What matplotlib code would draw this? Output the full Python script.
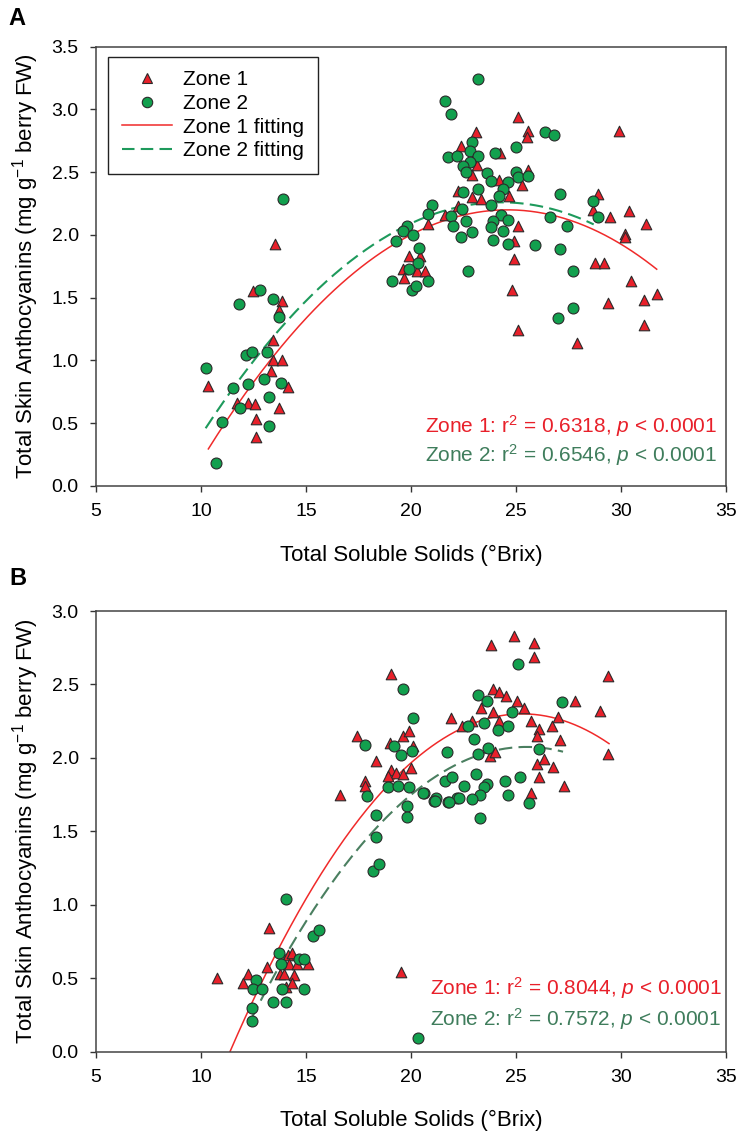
import numpy as np
import matplotlib
matplotlib.use("Agg")
import matplotlib.pyplot as plt
from matplotlib.lines import Line2D

plt.rcParams['font.family'] = ['Liberation Sans', 'DejaVu Sans']
plt.rcParams['mathtext.fontset'] = 'custom'
plt.rcParams['mathtext.rm'] = 'Liberation Sans'
plt.rcParams['mathtext.it'] = 'Liberation Sans:italic'
plt.rcParams['mathtext.bf'] = 'Liberation Sans:bold'

# ---- Panel A ----
a_zone1_tss = [13.52, 12.49, 13.84, 13.71, 13.44, 13.44, 13.84, 13.32, 10.35, 14.13, 11.70, 12.22, 12.57, 13.71, 12.62, 12.62,
               20.79, 19.92, 20.43, 19.60, 20.30, 20.67, 19.68,
               25.11, 23.10, 25.59, 25.51, 29.90, 22.38, 24.24, 23.13, 22.92, 24.21, 25.59, 25.30, 22.89, 23.32, 24.68,
               22.25, 28.92, 28.68, 29.48, 30.40, 31.19, 30.21, 30.21, 25.11, 24.90, 24.90, 28.76, 29.20, 30.48, 24.79,
               31.70, 29.40, 31.10, 25.11, 31.10, 27.89, 22.24, 21.60]
a_zone1_anth = [1.93, 1.55, 1.47, 1.40, 1.16, 1.00, 1.00, 0.92, 0.80, 0.79, 0.66, 0.66, 0.65, 0.62, 0.53, 0.39,
                2.09, 1.83, 1.83, 1.73, 1.71, 1.71, 1.66,
                2.94, 2.82, 2.83, 2.78, 2.83, 2.71, 2.65, 2.56, 2.48, 2.44, 2.52, 2.40, 2.30, 2.29, 2.31,
                2.23, 2.33, 2.20, 2.14, 2.19, 2.09, 2.01, 1.98, 2.07, 1.95, 1.81, 1.78, 1.78, 1.63, 1.56,
                1.53, 1.46, 1.48, 1.24, 1.28, 1.14, 2.35, 2.16]
a_zone2_tss = [13.92, 12.81, 11.83, 13.41, 13.71, 12.13, 12.41, 13.13, 10.22, 12.22, 13.02, 11.51, 13.81, 11.86, 13.22, 11.01, 13.22, 10.71,
               21.02, 20.79, 19.79, 19.63, 19.29, 20.11, 20.40, 20.35, 19.92, 19.11, 20.79, 20.03, 20.22,
               23.20, 21.60, 21.90, 26.38, 26.81, 22.92, 22.81, 21.78, 22.21, 23.20,
               24.00, 25.00, 22.81, 22.49, 22.60, 23.60, 23.79, 24.60, 25.00, 25.11,
               25.59, 23.20, 24.40, 22.49, 24.21, 23.79, 22.41, 27.10, 28.68, 28.92,
               21.90, 22.02, 22.38, 22.62, 22.92, 24.29, 23.92, 24.60, 23.81, 24.40,
               23.89, 24.60, 25.90, 26.62, 27.41, 27.10, 22.70, 27.70, 27.70, 26.98]
a_zone2_anth = [2.29, 1.56, 1.45, 1.49, 1.35, 1.04, 1.07, 1.07, 0.94, 0.81, 0.85, 0.78, 0.82, 0.62, 0.71, 0.51, 0.48, 0.18,
                2.24, 2.17, 2.07, 2.03, 1.95, 2.00, 1.90, 1.78, 1.73, 1.63, 1.63, 1.56, 1.59,
                3.24, 3.07, 2.96, 2.82, 2.80, 2.74, 2.67, 2.62, 2.63, 2.63,
                2.65, 2.70, 2.58, 2.55, 2.50, 2.49, 2.43, 2.42, 2.50, 2.46,
                2.47, 2.37, 2.37, 2.34, 2.31, 2.24, 2.21, 2.33, 2.27, 2.14,
                2.15, 2.07, 1.98, 2.11, 2.02, 2.16, 2.11, 2.12, 2.06, 2.03,
                1.96, 1.93, 1.92, 2.14, 2.07, 1.89, 1.71, 1.71, 1.42, 1.34]

# ---- Panel B ----
b_zone1_tss = [10.75, 12.22, 12.02, 13.24, 13.13, 13.76, 13.95, 14.05, 14.14, 14.35, 14.21, 14.56, 15.11, 14.44, 14.35,
               19.03, 21.90, 17.41, 19.00, 19.60, 19.92, 20.11, 18.32, 19.03, 19.29, 19.63, 20.00, 18.92, 17.81, 17.81, 16.62, 19.51,
               23.81, 24.90, 25.87, 25.87, 29.40, 23.92, 24.21, 24.52, 25.03, 23.33,
               23.92, 25.40, 27.81, 29.00, 22.41, 22.89, 24.21, 25.70, 26.11, 26.01,
               26.70, 27.01, 27.10, 29.40, 23.76, 24.00, 26.01, 26.33, 26.78, 26.11, 27.30, 25.70]
b_zone1_anth = [0.50, 0.53, 0.47, 0.84, 0.58, 0.53, 0.53, 0.44, 0.66, 0.67, 0.60, 0.60, 0.60, 0.52, 0.47,
                2.57, 2.27, 2.15, 2.10, 2.15, 2.18, 2.08, 1.98, 1.92, 1.90, 1.89, 1.93, 1.88, 1.84, 1.81, 1.75, 0.54,
                2.77, 2.83, 2.78, 2.69, 2.56, 2.47, 2.45, 2.42, 2.39, 2.34,
                2.31, 2.34, 2.39, 2.32, 2.22, 2.25, 2.25, 2.25, 2.20, 2.15,
                2.22, 2.28, 2.12, 2.03, 2.01, 2.04, 1.96, 1.99, 1.94, 1.87, 1.81, 1.76]
b_zone2_tss = [12.62, 12.49, 12.92, 12.41, 12.41, 13.71, 13.80, 13.87, 13.44, 14.03, 14.03, 14.68, 14.92, 14.92, 15.32, 15.62, 18.20, 18.49,
               19.60, 20.11, 17.81, 19.21, 20.05, 19.51, 21.70, 17.89, 18.92, 19.40,
               19.90, 20.62, 21.19, 21.10, 21.62, 21.94, 21.78, 22.17, 18.32, 19.79, 19.79, 18.32, 20.32,
               25.11, 23.20, 23.60, 24.82, 27.20, 22.73, 23.49, 24.13, 24.60, 23.01,
               23.20, 23.68, 26.11, 25.62, 23.10, 22.54, 23.60, 23.50, 24.48, 24.60,
               25.19, 23.29, 22.89, 22.30, 21.81, 21.14, 20.59, 23.29]
b_zone2_anth = [0.49, 0.43, 0.43, 0.30, 0.21, 0.67, 0.60, 0.43, 0.34, 0.34, 1.04, 0.63, 0.63, 0.43, 0.79, 0.83, 1.23, 1.28,
                2.47, 2.27, 2.09, 2.08, 2.05, 2.02, 2.04, 1.74, 1.80, 1.81,
                1.80, 1.76, 1.73, 1.71, 1.84, 1.87, 1.70, 1.73, 1.61, 1.67, 1.60, 1.46, 0.09,
                2.64, 2.43, 2.39, 2.31, 2.38, 2.22, 2.24, 2.19, 2.22, 2.13,
                2.03, 2.07, 2.06, 1.69, 1.89, 1.81, 1.82, 1.80, 1.84, 1.75,
                1.87, 1.75, 1.72, 1.73, 1.70, 1.71, 1.76, 1.59]

# quadratic fits: [peak_x, peak_y, curvature, x_start, x_end]
a_fit1 = [24.6, 2.20, -0.00938, 10.35, 31.7]
a_fit2 = [24.3, 2.26, -0.00908, 10.22, 28.7]
b_fit1 = [25.3, 2.30, -0.01187, 11.38, 29.43]
b_fit2 = [25.5, 2.075, -0.01078, 12.41, 27.24]

a_stats = ["0.6318", "0.6546"]
b_stats = ["0.8044", "0.7572"]

RED = '#e8202a'
GREEN = '#12a04e'
LINE_RED = '#f02a2a'
TEXT_GREEN = '#3f7d5c'
EDGE = '#2a2a2a'


def fit_line(fit):
    h, k, a, x0, x1 = fit
    xs = np.linspace(x0, x1, 200)
    return xs, a * (xs - h) ** 2 + k


def draw_panel(ax, z1x, z1y, z2x, z2y, fit1, fit2, dash_color, ymax, stats, text_x, text_y):
    ax.scatter(z1x, z1y, marker='^', s=58, color=RED, edgecolors=EDGE, linewidths=0.8, zorder=3)
    ax.scatter(z2x, z2y, marker='o', s=62, color=GREEN, edgecolors=EDGE, linewidths=0.8, zorder=4)
    x1, y1 = fit_line(fit1)
    x2, y2 = fit_line(fit2)
    ax.plot(x1, y1, color=LINE_RED, lw=1.1, zorder=2)
    ax.plot(x2, y2, color=dash_color, lw=1.5, linestyle=(0, (6.5, 3)), zorder=2)

    ax.set_xlim(5, 35)
    ax.set_ylim(0, ymax)
    ax.set_xticks(np.arange(5, 36, 5))
    ax.set_yticks(np.arange(0, ymax + 0.01, 0.5))
    ax.set_yticklabels([f"{v:.1f}" for v in np.arange(0, ymax + 0.01, 0.5)])
    ax.tick_params(direction='out', length=4.5, width=1, labelsize=14, pad=8, color='#333333')
    for sp in ax.spines.values():
        sp.set_color('#444444')
        sp.set_linewidth(1.1)

    ax.set_xlabel("Total Soluble Solids (°Brix)", fontsize=16)
    ax.set_ylabel("Total Skin Anthocyanins (mg g$^{-1}$ berry FW)", fontsize=16)
    ax.xaxis.set_label_coords(0.5, -0.133)
    ax.yaxis.set_label_coords(-0.087, 0.5)

    ax.text(text_x, text_y[0], f"Zone 1: r$^2$ = {stats[0]}, $p$ < 0.0001", color=RED,
            fontsize=15, ha='right', va='baseline', transform=ax.transAxes)
    ax.text(text_x, text_y[1], f"Zone 2: r$^2$ = {stats[1]}, $p$ < 0.0001", color=TEXT_GREEN,
            fontsize=15, ha='right', va='baseline', transform=ax.transAxes)


fig = plt.figure(figsize=(7.39, 11.36), dpi=100)
ax_a = fig.add_axes([0.1299, 0.5722, 0.8525, 0.3867])
ax_b = fig.add_axes([0.1299, 0.0742, 0.8525, 0.3879])

draw_panel(ax_a, a_zone1_tss, a_zone1_anth, a_zone2_tss, a_zone2_anth, a_fit1, a_fit2,
           '#1e9a5c', 3.5, a_stats, 0.986, (0.122, 0.054))
draw_panel(ax_b, b_zone1_tss, b_zone1_anth, b_zone2_tss, b_zone2_anth, b_fit1, b_fit2,
           '#4a7f60', 3.0, b_stats, 0.993, (0.129, 0.058))

handles = [
    Line2D([0], [0], marker='^', color='none', markerfacecolor=RED, markeredgecolor=EDGE,
           markeredgewidth=0.8, markersize=7, label='Zone 1'),
    Line2D([0], [0], marker='o', color='none', markerfacecolor=GREEN, markeredgecolor=EDGE,
           markeredgewidth=0.8, markersize=7.5, label='Zone 2'),
    Line2D([0], [0], color=LINE_RED, lw=1.1, label='Zone 1 fitting'),
    Line2D([0], [0], color='#1e9a5c', lw=1.5, linestyle=(0, (6, 3)), label='Zone 2 fitting'),
]
leg = ax_a.legend(handles=handles, loc='upper left', bbox_to_anchor=(0.019, 0.977), borderaxespad=0,
                  fontsize=15, frameon=True, fancybox=False, edgecolor='#222222', framealpha=1,
                  handlelength=2.4, handletextpad=0.55, labelspacing=0.22, borderpad=0.65)
leg.get_frame().set_linewidth(1.0)

fig.text(8 / 739, 1 - 7 / 1136, "A", fontsize=17, fontweight='bold', ha='left', va='top')
fig.text(9 / 739, 1 - 567 / 1136, "B", fontsize=17, fontweight='bold', ha='left', va='top')

fig.savefig("out.png", dpi=100)
